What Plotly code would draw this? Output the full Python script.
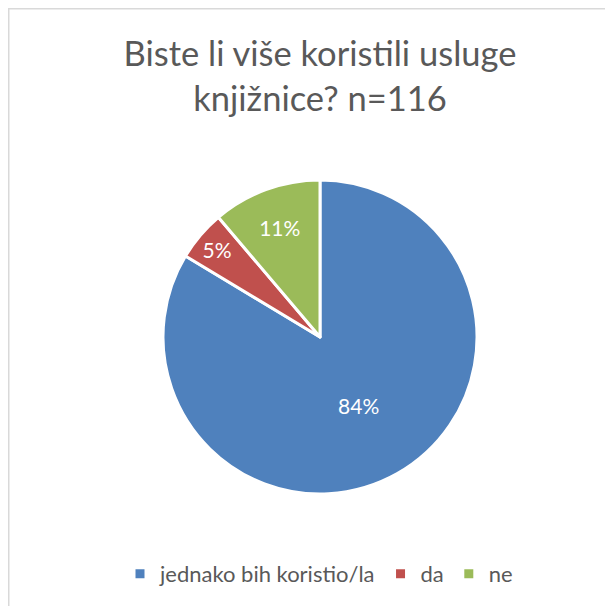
import plotly.graph_objects as go

categories = ["jednako bih koristio/la", "da", "ne"]
counts = [97, 6, 13]
colors = ["#4F81BD", "#C0504D", "#9BBB59"]
title_text = "Biste li više koristili usluge<br>knjižnice? n=116"

# the page body adds an 8px margin, so the figure is 8px smaller than the window
W, H = 605, 598
cx, cy, r = 312, 329, 157

fig = go.Figure(go.Pie(
    labels=categories,
    values=counts,
    sort=False,
    direction="clockwise",
    rotation=0,
    marker=dict(colors=colors, line=dict(color="white", width=3)),
    textinfo="percent",
    texttemplate="%{percent:.0%}",
    textposition="inside",
    insidetextorientation="horizontal",
    textfont=dict(color="white", size=21, family="Lato"),
    domain=dict(x=[(cx - r) / W, (cx + r) / W], y=[(H - cy - r) / H, (H - cy + r) / H]),
    hoverinfo="label+percent",
))

fig.update_layout(
    width=W, height=H,
    margin=dict(l=0, r=0, t=0, b=0),
    paper_bgcolor="white",
    plot_bgcolor="white",
    title=dict(text=title_text, x=312 / W, xanchor="center", y=1 - 58 / H, yanchor="top",
               yref="container", font=dict(size=34.5, color="#595959", family="Lato")),
    legend=dict(orientation="h", x=311 / W, xanchor="center", y=(H - 566) / H, yanchor="middle",
                font=dict(size=22, color="#595959", family="Lato"), itemwidth=30, traceorder="normal"),
    shapes=[
        dict(type="line", xref="paper", yref="paper", x0=0, x1=1, y0=1 - 0.5 / H, y1=1 - 0.5 / H,
             line=dict(color="#d9d9d9", width=2)),
        dict(type="line", xref="paper", yref="paper", x0=0.5 / W, x1=0.5 / W, y0=0, y1=1,
             line=dict(color="#d9d9d9", width=2)),
    ],
)

fig.write_html("out.html")
